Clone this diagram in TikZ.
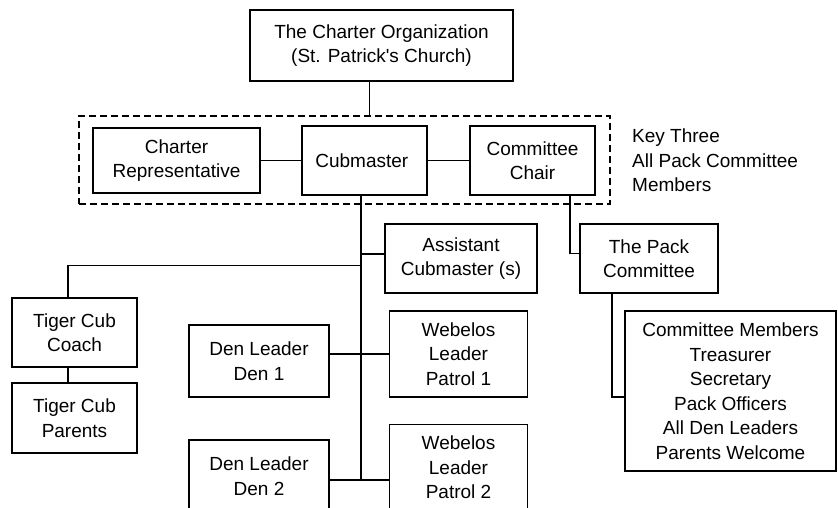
\documentclass[tikz,border=0pt]{standalone}
\usepackage{fontspec}
\setmainfont{Liberation Sans}
\tikzset{
	every block/.style={draw, line width=1.4pt, align=center, inner sep=0pt,
		font=\fontsize{19}{24.5}\selectfont},
	every key/.style={draw, line width=1.3pt, dash pattern=on 7pt off 4pt},
	every link/.style={line width=1.4pt},
}

\begin{document}
\begin{tikzpicture}[x=1pt, y=-1pt]
		\path [use as bounding box, clip] (0,0) rectangle (838,507);

		\node [every block/.try, minimum width=263pt, minimum height=71pt] (org) at (381.5,45.5) {
			The Charter Organization\\(St. Patrick\textquotesingle s Church)
		};

		\node [every block/.try, minimum width=167pt, minimum height=65pt] (rep) at (176.5,160.5) {
			Charter\\Representative
		};
		\node [every block/.try, minimum width=125pt, minimum height=69pt] (cub) at (364.5,160.5) {
			Cubmaster
		};
		\node [every block/.try, minimum width=125pt, minimum height=69pt] (chair) at (532.5,160.5) {
			Committee\\Chair
		};
		\node [every key/.try, minimum width=531pt, minimum height=88pt] (key) at (344.5,160) {};
		\node [anchor=west, align=left, inner sep=0pt, font=\fontsize{19}{24.5}\selectfont] (key-text) at (632,160.5) {
			Key Three\\All Pack Committee\\Members
		};

		\node [every block/.try, minimum width=152pt, minimum height=69pt] (asst) at (461,258.5) {
			Assistant\\Cubmaster (s)
		};
		\node [every block/.try, minimum width=138pt, minimum height=69pt] (pack) at (649,258.5) {
			The Pack\\Committee
		};
		\node [every block/.try, minimum width=125pt, minimum height=69pt] (coach) at (74.5,332.5) {
			Tiger Cub\\Coach
		};
		\node [every block/.try, minimum width=125pt, minimum height=70pt] (parents) at (74.5,418) {
			Tiger Cub\\Parents
		};
		\node [every block/.try, minimum width=211pt, minimum height=160pt] (members) at (730.5,391) {
			Committee Members\\Treasurer\\Secretary\\Pack Officers\\All Den Leaders\\Parents Welcome
		};

		\foreach \n/\dy/\wy in {1/361/354, 2/476/467.5} {
			\node [every block/.try, minimum width=140pt, minimum height=72pt] (den-\n) at (259,\dy) {
				Den Leader\\Den \n
			};
			\node [every block/.try, minimum width=138pt, minimum height=86pt] (web-\n) at (458.5,\wy) {
				Webelos\\Leader\\Patrol \n
			};
		};

		\coordinate (trunk) at ([xshift=-3.5pt]cub.south);
		\coordinate (d2) at ([yshift=-4pt]den-2.east);

		\draw [every link/.try] ([xshift=-12pt]org.south) -- ([xshift=-12pt]org.south |- key.north);
		\draw [every link/.try] (rep) -- (cub);
		\draw [every link/.try] (cub) -- (chair);
		\draw [every link/.try] (trunk) -- (trunk |- d2);
		\draw [every link/.try] ([yshift=4.5pt]asst.west) -- ([yshift=4.5pt]asst.west -| trunk);
		\draw [every link/.try] ([xshift=-6.5pt]coach.north) -- ++(0,-32) coordinate (tiger) -- (tiger -| trunk);
		\draw [every link/.try] ([xshift=-6.5pt]coach.south) -- ([xshift=-6.5pt]parents.north);
		\draw [every link/.try] (den-1.east |- web-1.west) -- (web-1.west);
		\draw [every link/.try] (d2) -- (web-2.west |- d2);
		\draw [every link/.try] ([xshift=37.5pt]chair.south) |- ([yshift=5pt]pack.west);
		\draw [every link/.try] ([xshift=-37pt]pack.south) |- ([yshift=-6pt]members.west);
	\end{tikzpicture}
\end{document}
